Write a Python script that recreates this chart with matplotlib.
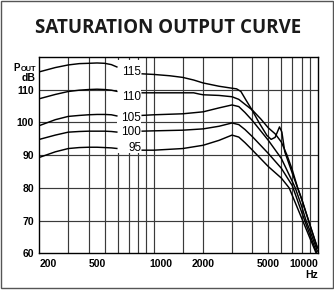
import numpy as np
import matplotlib.pyplot as plt
from matplotlib.patches import Rectangle
from matplotlib.transforms import ScaledTranslation

# curve values (frequency in Hz, output in dB)
left_freqs = [200, 250, 300, 350, 400, 450, 500, 550, 600]
c115_left = [115.4, 116.7, 117.5, 117.9, 118.0, 118.1, 118.0, 117.6, 116.8]
c110_left = [107.2, 108.5, 109.4, 109.8, 110.0, 110.1, 110.0, 109.8, 109.4]
c105_left = [99.0, 100.8, 101.8, 102.1, 102.3, 102.4, 102.4, 102.3, 101.9]
c100_left = [94.8, 96.1, 97.0, 97.2, 97.3, 97.3, 97.3, 97.2, 97.0]
c95_left = [89.3, 91.0, 92.0, 92.3, 92.4, 92.4, 92.3, 92.2, 92.0]

c115_f = [840, 1000, 1250, 1500, 1750, 2000, 2500, 3000, 3200, 3400, 3650, 3950,
          4400, 4900, 5200, 5500, 5850, 6050, 6300, 7000, 8000, 9000, 10000]
c115_db = [114.8, 114.6, 114.2, 113.7, 112.9, 112.0, 111.0, 110.4, 110.2, 109.4, 106.8, 104.0,
           99.8, 96.0, 94.8, 95.4, 98.6, 97.0, 91.0, 84.5, 76.5, 68.5, 61.5]

c110_f = [840, 1000, 1500, 1750, 1900, 2000, 2500, 3000, 3300, 3600, 4000,
          4500, 5000, 5500, 6000, 6500, 7000, 7550, 8000, 9000, 10000]
c110_db = [109.0, 109.0, 109.0, 109.0, 108.6, 108.4, 108.2, 107.8, 107.0, 105.5, 103.7,
           101.0, 98.3, 96.5, 94.0, 90.0, 85.5, 80.0, 76.5, 68.5, 61.5]

c105_f = [840, 1000, 1500, 2000, 2500, 3000, 3300, 3600, 4000, 5000, 6000, 7000, 7300,
          8000, 8500, 9000, 10000]
c105_db = [102.1, 102.3, 102.6, 103.2, 104.4, 105.3, 104.8, 103.0, 100.5, 94.5, 89.0, 82.0, 80.0,
           74.3, 70.0, 66.8, 60.5]

c100_f = [840, 1000, 1500, 2000, 2500, 3000, 3300, 3600, 4000, 5000, 6000, 7000, 8000,
          9000, 10000]
c100_db = [97.3, 97.4, 97.6, 98.0, 98.8, 99.8, 99.3, 97.8, 95.6, 90.5, 86.0, 80.7, 72.5,
           65.5, 59.5]

c95_f = [840, 1000, 1500, 2000, 2500, 3000, 3300, 3600, 4000, 5000, 6000, 6700, 7000,
         8000, 9000, 10000]
c95_db = [91.5, 91.5, 92.0, 93.0, 94.5, 96.1, 95.5, 93.8, 91.5, 86.5, 83.0, 80.0, 77.7,
          70.7, 64.5, 59.0]

curve_names = ["115", "110", "105", "100", "95"]
label_db = [115.4, 107.7, 101.4, 97.1, 92.2]

x_ticks = [200, 500, 1000, 2000, 5000, 10000]
y_ticks = [60, 70, 80, 90, 100, 110]
x_grid = [300, 400, 500, 600, 700, 800, 900, 1000, 1500, 2000, 3000, 4000, 5000,
          6000, 7000, 8000, 9000]
y_grid = [70, 80, 90, 100, 110]

fig = plt.figure(figsize=(3.34, 2.91), dpi=100)
ax = fig.add_axes([0.118, 0.129, 0.833, 0.676])
ax.set_xscale("log")
ax.set_xlim(200, 10000)
ax.set_ylim(60, 120)

grid_col = "#3a3a3a"
for g in x_grid:
    ax.axvline(g, color=grid_col, lw=0.85, zorder=1)
for g in y_grid:
    ax.axhline(g, color=grid_col, lw=0.85, zorder=1)

# white patch behind the curve labels
ax.add_patch(Rectangle((597, 90.6), 840 - 597, 119.0 - 90.6, facecolor="white",
                       edgecolor="none", zorder=2))

lefts = [c115_left, c110_left, c105_left, c100_left, c95_left]
rights = [(c115_f, c115_db), (c110_f, c110_db), (c105_f, c105_db),
          (c100_f, c100_db), (c95_f, c95_db)]
for lv, (rf, rv) in zip(lefts, rights):
    ax.plot(left_freqs, lv, color="black", lw=1.05, zorder=3, solid_capstyle="butt")
    ax.plot(rf, rv, color="black", lw=1.05, zorder=3, solid_capstyle="butt")

for name, yv in zip(curve_names, label_db):
    ax.text(836, yv, name, ha="right", va="center", fontsize=8.5,
            family="Liberation Sans", zorder=4)

for s in ax.spines.values():
    s.set_linewidth(1.0)
    s.set_color("black")
    s.set_zorder(5)

ax.minorticks_off()
ax.set_xticks(x_ticks)
ax.set_xticklabels([str(t) for t in x_ticks])
ax.set_yticks(y_ticks)
ax.set_yticklabels([str(t) for t in y_ticks])
ax.tick_params(length=0, pad=4, labelsize=7.5)
for lab in ax.get_xticklabels() + ax.get_yticklabels():
    lab.set_family("Liberation Sans")
    lab.set_fontweight("bold")
xl = ax.get_xticklabels()
xl[0].set_ha("left")
xl[-1].set_ha("right")
xl[1].set_transform(xl[1].get_transform() + ScaledTranslation(-0.07, 0, fig.dpi_scale_trans))
xl[2].set_transform(xl[2].get_transform() + ScaledTranslation(0.07, 0, fig.dpi_scale_trans))

ax.text(1.0, -0.085, "Hz", transform=ax.transAxes, ha="right", va="top",
        fontsize=7.5, family="Liberation Sans", fontweight="bold")

# "POUT" with small caps, "dB" beneath
out = ax.text(-0.013, 0.925, "OUT", transform=ax.transAxes, ha="right", va="baseline",
              fontsize=5.3, family="Liberation Sans", fontweight="bold")
ax.annotate("P", xy=(0, 0), xycoords=out, ha="right", va="bottom",
            fontsize=7, family="Liberation Sans", fontweight="bold")
ax.text(-0.013, 0.892, "dB", transform=ax.transAxes, ha="right", va="center",
        fontsize=7.5, family="Liberation Sans", fontweight="bold")

fig.text(0.502, 0.904, "SATURATION OUTPUT CURVE", ha="center", va="center",
         fontsize=13.5, family="Open Sans", fontweight="bold", color="#1a1a1a")

fig.patches.append(Rectangle((1 / 334, 3 / 291), 332 / 334, 287 / 291,
                             transform=fig.transFigure, fill=False,
                             edgecolor="#555555", lw=1.0))

fig.savefig("out.png", dpi=100)
